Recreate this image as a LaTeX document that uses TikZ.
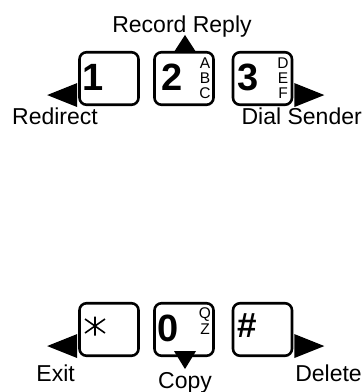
\documentclass[tikz,border=0pt]{standalone}
\usepackage{fontspec}
\setmainfont{Liberation Sans}
\usetikzlibrary{calc}
\begin{document}
\begin{tikzpicture}[x=1pt,y=-1pt,
  key/.style={draw, line width=2.6pt, rounded corners=7pt,
    minimum width=59pt, minimum height=52.5pt, inner sep=0pt},
  digit/.style={anchor=base west, inner sep=0pt,
    font=\fontsize{38}{38}\selectfont\bfseries},
  letter/.style={anchor=base, inner sep=0pt, text depth=0pt,
    font=\fontsize{15.5}{15.5}\selectfont},
  label/.style={inner sep=0pt, font=\fontsize{23}{23}\selectfont},
  tip/.style={fill=black, draw=none}
]
\useasboundingbox (0,0) rectangle (363,392);

% keypad keys
\node[key] (k1) at (109,78.5) {};
\node[key] (k2) at (184,78.5) {};
\node[key] (k3) at (262.5,78.5) {};
\node[key] (kstar) at (109,329.5) {};
\node[key] (k0) at (184,329.5) {};
\node[key] (khash) at (262.5,329.5) {};

% key legends
\node[digit] (d1) at ($(k1)+(-27,12)$) {1};
\node[digit] (d2) at ($(k2)+(-23,12)$) {2};
\node[digit] (d3) at ($(k3)+(-25.5,12)$) {3};
\node[digit] (d0) at ($(k0)+(-27,12)$) {0};
\node[digit, font=\fontsize{35}{35}\selectfont\bfseries] (dh) at ($(khash)+(-25,8)$) {\#};
\coordinate (ast) at ($(kstar)+(-14,-3.5)$);
\draw[line width=1.6pt] ($(ast)+(0,-9.5)$) -- ($(ast)+(0,9.5)$)
  ($(ast)+(-10,-7)$) -- ($(ast)+(10,7)$)
  ($(ast)+(-10,7)$) -- ($(ast)+(10,-7)$);

\node[letter] (la) at ($(k2)+(21,-10.5)$) {A};
\node[letter] (lb) at ($(k2)+(21,4.5)$) {B};
\node[letter] (lc) at ($(k2)+(21,19.5)$) {C};
\node[letter] (ld) at ($(k3)+(20.5,-10.5)$) {D};
\node[letter] (le) at ($(k3)+(20.5,4.5)$) {E};
\node[letter] (lf) at ($(k3)+(20.5,19.5)$) {F};
\node[letter] (lq) at ($(k0)+(21,-11.5)$) {Q};
\node[letter] (lz) at ($(k0)+(21,4.5)$) {Z};

% direction arrows
\fill[tip] ($(k1.south west)+(-1,-23)$) -- ($(k1.south west)+(-1,1)$) -- ($(k1.south west)+(-31,-11)$) -- cycle;
\fill[tip] ($(kstar.south west)+(-1,-23)$) -- ($(kstar.south west)+(-1,1)$) -- ($(kstar.south west)+(-31,-11)$) -- cycle;
\fill[tip] ($(k3.south east)+(1,-23)$) -- ($(k3.south east)+(1,1)$) -- ($(k3.south east)+(31,-11)$) -- cycle;
\fill[tip] ($(khash.south east)+(1,-23)$) -- ($(khash.south east)+(1,1)$) -- ($(khash.south east)+(31,-11)$) -- cycle;
\fill[tip] ($(k2.north)+(-10,1)$) -- ($(k2.north)+(12,1)$) -- ($(k2.north)+(1,-16)$) -- cycle;
\fill[tip] ($(k0.south)+(-10,-6)$) -- ($(k0.south)+(12,-6)$) -- ($(k0.south)+(1,12)$) -- cycle;

% function labels
\node[label, anchor=base] (rr) at (182,32) {Record Reply};
\node[label, anchor=base east] (rd) at (98,124.5) {Redirect};
\node[label, anchor=base east] (ds) at (362,124.5) {Dial Sender};
\node[label, anchor=base east] (ex) at (75,381) {Exit};
\node[label, anchor=base] (cp) at (185,388) {Copy};
\node[label, anchor=base east] (dl) at (362,381) {Delete};
\end{tikzpicture}
\end{document}
